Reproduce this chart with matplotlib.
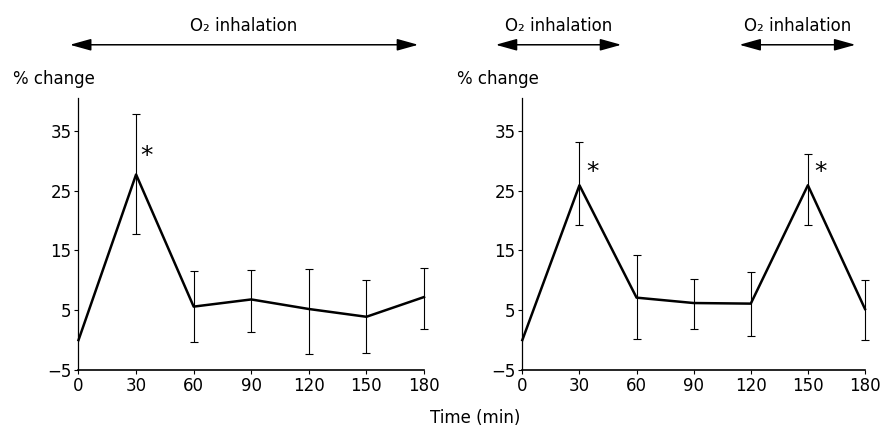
import matplotlib.pyplot as plt
import numpy as np

times = [0, 30, 60, 90, 120, 150, 180]

# left panel: continuous O2 inhalation
left_mean = [0, 27.7, 5.6, 6.8, 5.2, 3.9, 7.2]
left_hi = [0, 37.9, 11.6, 11.7, 11.9, 10.0, 12.0]
left_lo = [0, 17.8, -0.3, 1.4, -2.3, -2.2, 1.9]

# right panel: two inhalation periods
right_mean = [0, 25.9, 7.1, 6.2, 6.1, 25.9, 5.2]
right_hi = [0, 33.1, 14.3, 10.3, 11.4, 31.2, 10.1]
right_lo = [0, 19.2, 0.1, 1.9, 0.7, 19.3, 0.0]

yticks = [-5, 5, 15, 25, 35]
ytick_labels = ['\u22125', '5', '15', '25', '35']

left_arrows = [(-4.5, 177)]
right_arrows = [(-14, 52), (114, 175)]
left_stars = [(35.5, 30.8)]
right_stars = [(37, 28.2), (156.5, 28.2)]

plt.rcParams['font.family'] = ['DejaVu Sans']

fig = plt.figure(figsize=(8.85, 4.38), dpi=100)
ax1 = fig.add_axes([0.0887, 0.1553, 0.3904, 0.621])
ax2 = fig.add_axes([0.5902, 0.1553, 0.3872, 0.621])


def draw(ax, mean, hi, lo, arrows, stars):
    mean = np.array(mean)
    yerr = [mean - np.array(lo), np.array(hi) - mean]
    eb = ax.errorbar(times[1:], mean[1:], yerr=[yerr[0][1:], yerr[1][1:]],
                     fmt='none', ecolor='black', elinewidth=0.8, capsize=3,
                     capthick=0.8)
    for art in eb.lines[1] + eb.lines[2]:
        art.set_clip_on(False)
    ax.plot(times, mean, color='black', lw=1.8, clip_on=False)
    ax.set_xlim(0, 180)
    ax.set_ylim(-5, 40.5)
    ax.set_xticks(times)
    ax.set_yticks(yticks)
    ax.set_yticklabels(ytick_labels)
    ax.spines['top'].set_visible(False)
    ax.spines['right'].set_visible(False)
    ax.spines['left'].set_linewidth(0.9)
    ax.spines['bottom'].set_linewidth(1.2)
    ax.tick_params(axis='both', direction='out', length=3, width=0.8,
                   labelsize=12, pad=2)
    ax.text(-0.19, 1.07, '% change', transform=ax.transAxes, fontsize=12,
            ha='left', va='center')
    for x0, x1 in arrows:
        ax.annotate('', xy=(x1, 49.4), xytext=(x0, 49.4),
                    xycoords='data', annotation_clip=False,
                    arrowprops=dict(
                        arrowstyle='<|-|>,head_length=0.72,head_width=0.2',
                        color='black', lw=1.1, mutation_scale=18,
                        shrinkA=0, shrinkB=0))
        ax.text((x0 + x1) / 2, 51.0, 'O\u2082 inhalation', ha='center',
                va='bottom', fontsize=12, clip_on=False)
    for sx, sy in stars:
        ax.text(sx, sy, '*', fontsize=18, ha='center', va='center')


draw(ax1, left_mean, left_hi, left_lo, left_arrows, left_stars)
draw(ax2, right_mean, right_hi, right_lo, right_arrows, right_stars)

fig.text(0.537, 0.025, 'Time (min)', ha='center', va='bottom', fontsize=12)

fig.savefig('out.png', dpi=100)
